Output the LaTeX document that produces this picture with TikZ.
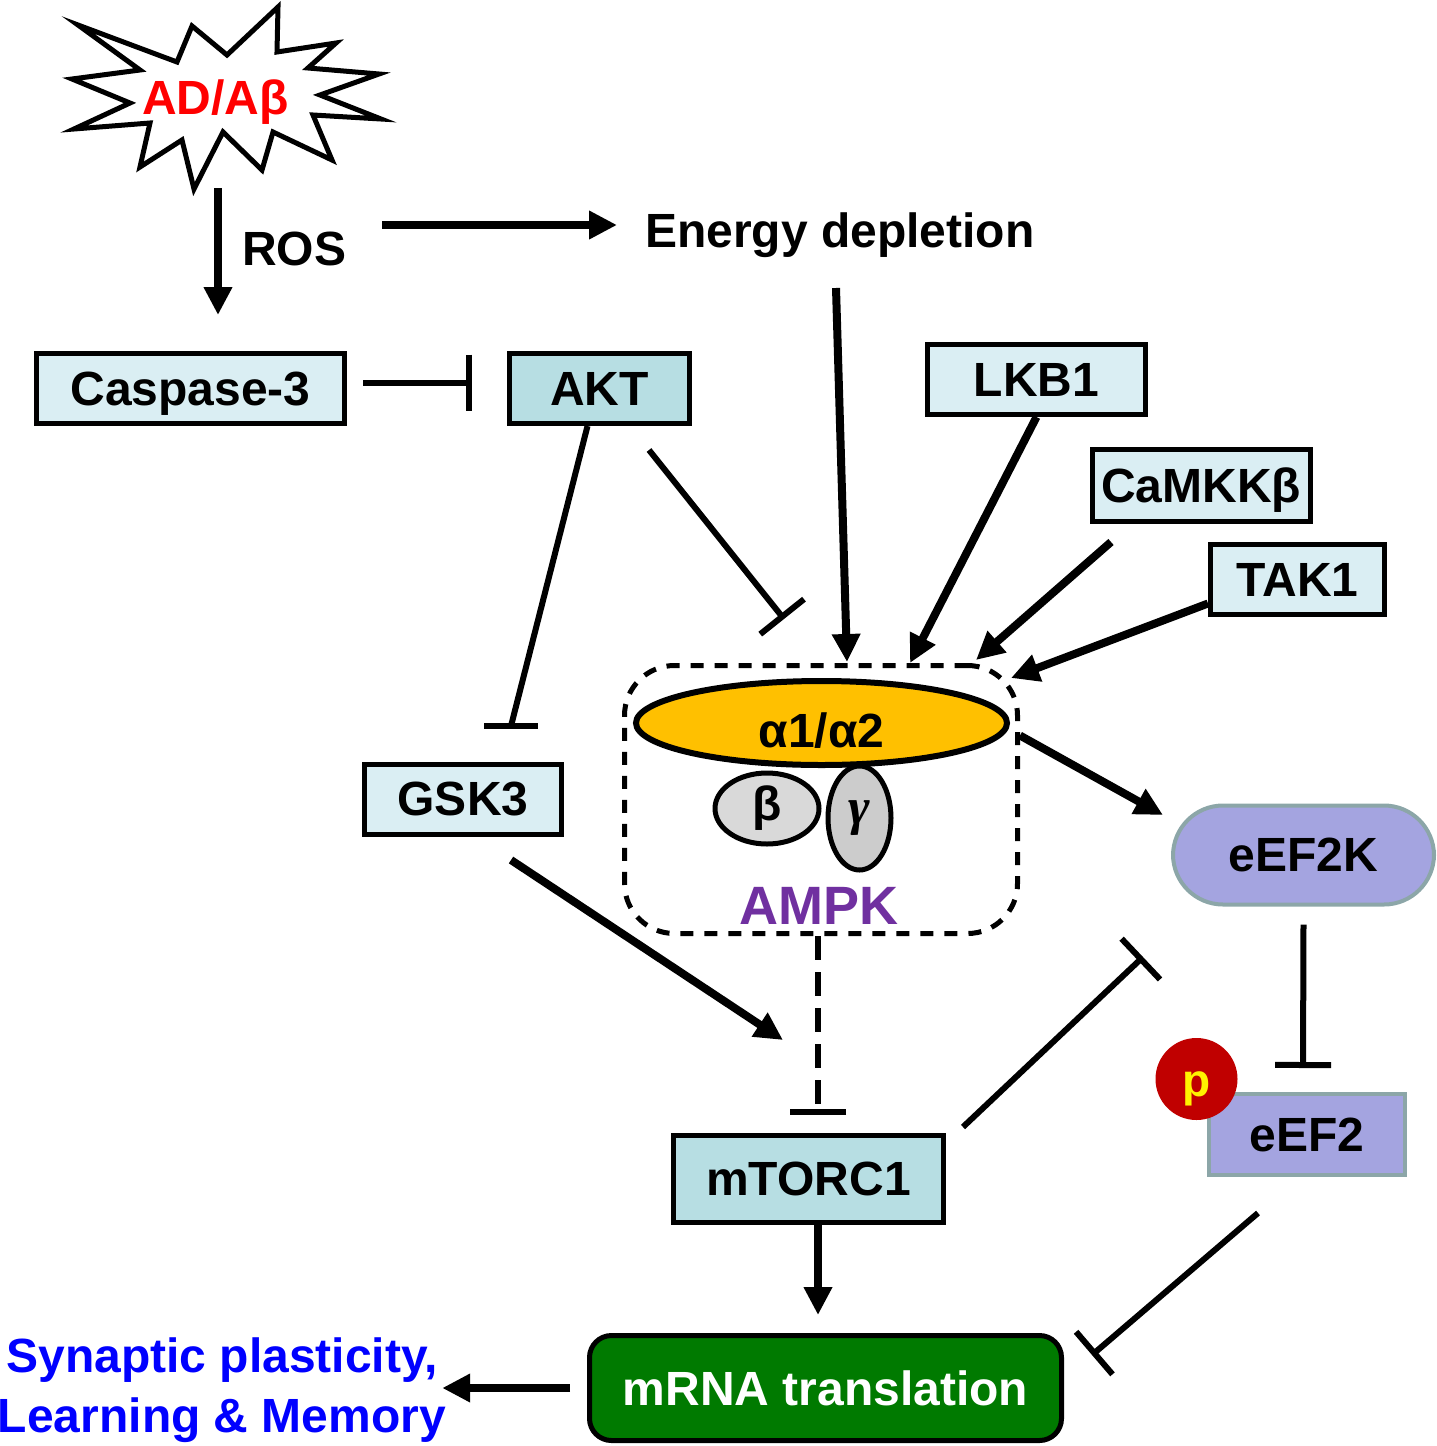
\documentclass[tikz,border=0pt]{standalone}
\usepackage{fontspec}
\setmainfont{Liberation Sans}
\newfontfamily\greekserif{Liberation Serif}
\usepackage{tikz}
\usetikzlibrary{arrows.meta,positioning,calc,shapes.geometric}

\definecolor{boxlight}{HTML}{DAEEF3}
\definecolor{boxmid}{HTML}{B7DEE3}
\definecolor{kinase}{HTML}{A4A4E0}
\definecolor{kinaseline}{HTML}{8CA6A8}
\definecolor{transgreen}{HTML}{007A00}
\definecolor{ampkpurple}{HTML}{7030A0}
\definecolor{alphaorange}{HTML}{FFC000}
\definecolor{phosred}{HTML}{C00000}

\begin{document}
\begin{tikzpicture}[x=1pt,y=-1pt,
  lbl/.style={font=\fontsize{48}{60}\selectfont\bfseries, inner sep=0pt},
  prot/.style={draw, line width=5pt, fill=boxlight, lbl, text depth=0pt, minimum height=70pt},
  act/.style={line width=8pt, -{Triangle[length=28pt,width=27pt]}},
  inh/.style={line width=6pt, -{Bar[width=56pt]}}]
  \useasboundingbox (0,0) rectangle (1437,1446);

  % AD burst
  \draw[line width=5pt, line join=miter, fill=white]
    (78,25) -- (177,62) -- (192,26) -- (227,55) -- (278,7) -- (277,52)
    -- (336,43) -- (308,68) -- (379,74) -- (320,95) -- (381,119)
    -- (313,115) -- (332,160) -- (273,132) -- (262,170) -- (223,132)
    -- (194,189) -- (182,140) -- (140,167) -- (150,123) -- (74,129)
    -- (130,103) -- (72,79) -- (140,70) -- cycle;
  \node[lbl, text=red] (adab) at (215.5,102) {AD/Aβ};

  % top row
  \node[lbl, anchor=base west] (ros) at (242,265) {ROS};
  \node[lbl, anchor=base west] (energy) at (645,247) {Energy depletion};
  \node[prot, minimum width=308pt] (casp) at (190.5,388.5) {Caspase-3};
  \node[prot, fill=boxmid, minimum width=180pt] (akt) at (599.5,388.5) {AKT};

  % upstream kinases
  \node[prot, minimum width=218pt] (lkb1) at (1036.5,379.5) {LKB1};
  \node[prot, minimum width=218pt, minimum height=72pt] (camkk) at (1201,485.5) {CaMKKβ};
  \node[prot, minimum width=174pt] (tak1) at (1297.5,579.5) {TAK1};
  \node[prot, minimum width=197pt] (gsk3) at (463,799) {GSK3};

  % AMPK complex
  \node[draw, line width=5pt, dash pattern=on 13pt off 11pt, rounded corners=50pt,
    minimum width=393pt, minimum height=268pt] (ampk) at (821,799.5) {};
  \node[ellipse, draw, line width=6pt, fill=alphaorange, lbl, text height=48pt, text depth=0pt,
    minimum width=371pt, minimum height=84pt] (alpha) at (821.5,723) {α1/α2};
  \node[ellipse, draw, line width=5pt, fill=black!15, lbl,
    minimum width=104pt, minimum height=71pt] (beta) at (767,808.5) {β};
  \node[ellipse, draw, line width=5pt, fill=black!20, inner sep=0pt,
    font=\greekserif\bfseries\itshape\fontsize{52}{60}\selectfont,
    minimum width=63pt, minimum height=104pt] (gamma) at (859.5,818) {γ};
  \node[font=\fontsize{54}{60}\selectfont\bfseries, text=ampkpurple, inner sep=0pt]
    (ampk-label) at (819,906) {AMPK};

  % eEF2 side
  \node[draw=kinaseline, line width=4pt, fill=kinase, rounded corners=50pt, lbl,
    minimum width=261pt, minimum height=99pt] (eef2k) at (1303.5,855) {eEF2K};
  \node[draw=kinaseline, line width=4pt, fill=kinase, lbl,
    minimum width=196pt, minimum height=81pt] (eef2) at (1307,1134.5) {eEF2};
  \node[circle, fill=phosred, minimum size=82pt, inner sep=0pt, text=yellow,
    text height=34pt, text depth=0pt,
    font=\fontsize{46}{50}\selectfont\bfseries] (phos) at (1196.5,1079) {p};

  % bottom
  \node[prot, fill=boxmid, minimum width=270pt, minimum height=87pt] (mtorc1) at (808.5,1179) {mTORC1};
  \node[draw, line width=5pt, rounded corners=22pt, fill=transgreen, text=white, lbl,
    minimum width=472pt, minimum height=105pt] (mrna) at (825.5,1388) {mRNA translation};
  \node[lbl, text=blue, align=center] (synaptic) at (222,1390)
    {Synaptic plasticity,\\Learning \& Memory};

  % free ends
  \coordinate (star-foot) at (218,188);
  \coordinate (ros-out) at (382,225);
  \coordinate (energy-out) at (836,288);
  \coordinate (camkk-out) at (1111,542);
  \coordinate (akt-out) at (649,450);
  \coordinate (ampk-bar) at (784,619);
  \coordinate (gsk3-bar) at (511,726);
  \coordinate (gsk3-out) at (511,860);
  \coordinate (gsk3-tip) at (783,1040);
  \coordinate (mtorc1-out) at (963,1127);
  \coordinate (eef2k-bar) at (1143,957);
  \coordinate (eef2-out) at (1258,1213);
  \coordinate (mrna-bar) at (1092,1355);

  % activation
  \draw[act, shorten >=36pt] (star-foot) -- (star-foot |- casp.north);
  \draw[act, shorten >=28pt] (ros-out) -- (ros-out -| energy.west);
  \draw[act] (energy-out) -- ($(ampk.north)+(26,-1)$);
  \draw[act] (lkb1.south) -- ($(ampk.north)+(89,0)$);
  \draw[act] (camkk-out) -- ($(ampk.north)+(155,-3)$);
  \draw[act] (tak1.195) -- ($(ampk.north east)+(-9,15)$);
  \draw[act] ($(ampk.east)+(0,-64)$) -- ($(eef2k.west)+(-8,-40)$);
  \draw[act] (gsk3-out) -- (gsk3-tip);
  \draw[act, shorten >=18pt] ($(mtorc1.south)+(9.5,0)$) -- ($(mrna.north)+(-7.5,0)$);
  \draw[act, shorten <=17pt, shorten >=-4pt] (mrna.west) -- (mrna.west -| synaptic.east);

  % inhibition
  \draw[inh, shorten <=16pt, shorten >=35pt] ($(casp.east)+(0,-6)$) -- ($(akt.west)+(0,-6)$);
  \draw[inh] (akt-out) -- (ampk-bar);
  \draw[line width=6pt] ($(akt.south)+(-12,0)$) -- (gsk3-bar);
  \draw[line width=6pt] ($(gsk3-bar)+(-27,0)$) -- ($(gsk3-bar)+(27,0)$);
  \draw[inh, dash pattern=on 24pt off 12pt] ($(ampk.south)+(-3,0)$) -- ($(mtorc1.north)+(9.5,-18)$);
  \draw[inh] (mtorc1-out) -- (eef2k-bar);
  \draw[inh] ($(eef2k.south)+(0,18)$) -- ($(eef2.north)+(-4,-24)$);
  \draw[inh] (eef2-out) -- (mrna-bar);
\end{tikzpicture}
\end{document}
